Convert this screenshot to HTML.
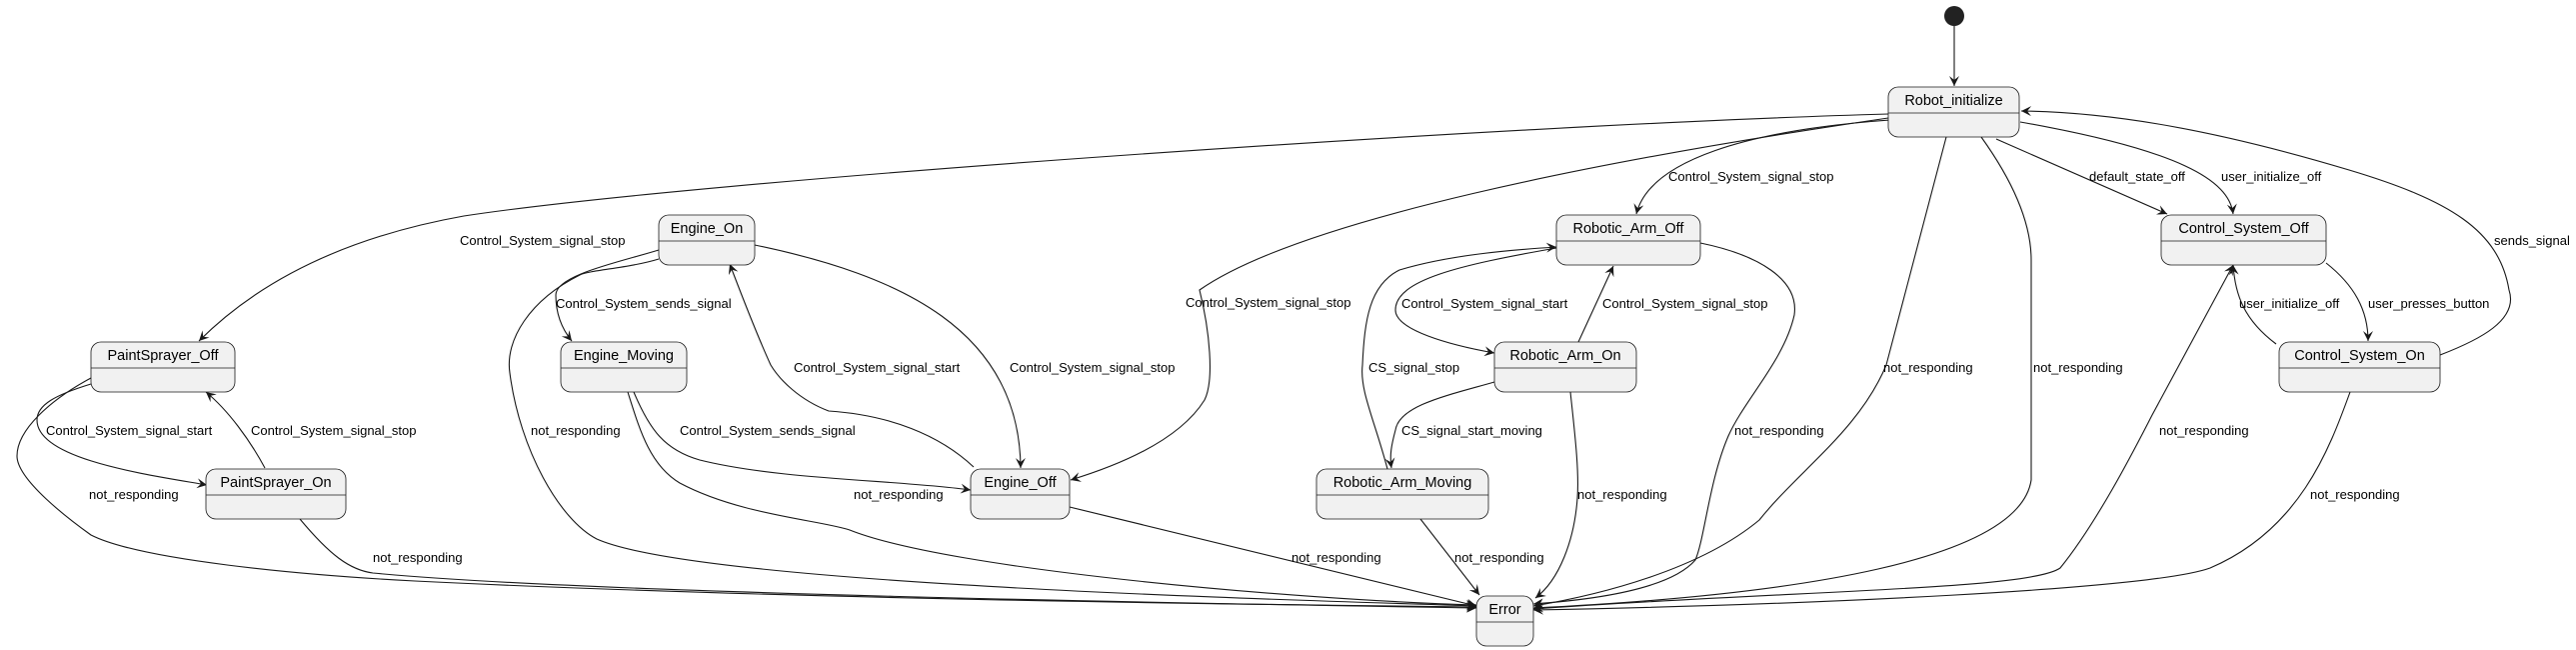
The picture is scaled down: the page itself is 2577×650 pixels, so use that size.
<!DOCTYPE html>
<html><head><meta charset="utf-8"><style>
html,body{margin:0;padding:0;background:#fff;}
svg{display:block;}
text{font-family:"Liberation Sans",sans-serif;fill:#000;}
.l{font-size:13px;}
.n{font-size:14.5px;text-anchor:middle;}
.e{fill:none;stroke:#181818;stroke-width:1.1;marker-end:url(#a);}
.b{fill:#f1f1f1;stroke:#181818;stroke-width:0.8;}
</style></head><body>
<svg width="2577" height="650" viewBox="0 0 2577 650" xmlns="http://www.w3.org/2000/svg">
<defs><marker id="a" markerWidth="12" markerHeight="10" refX="10" refY="5" orient="auto" markerUnits="userSpaceOnUse"><path d="M0,0 L10,5 L0,10 L4,5 z" fill="#181818"/></marker></defs>

<circle cx="1955" cy="16" r="10" fill="#222"/>

<!-- edges -->
<path class="e" d="M1955,26 L1955,86"/>
<path class="e" d="M1889,114 C1500,125 700,180 464,216 C330,240 250,290 199,341"/>
<path class="e" d="M1889,118 C1600,160 1300,220 1200,290 C1210,330 1215,380 1205,400 C1180,440 1120,465 1071,480"/>
<path class="e" d="M1891,120 C1750,130 1650,160 1637,214"/>
<path class="e" d="M1947,137 L1887,365 C1860,430 1800,470 1760,520 C1700,570 1600,595 1534,606"/>
<path class="e" d="M1982,137 C2020,190 2032,230 2032,260 L2032,480 C2020,560 1800,595 1534,608"/>
<path class="e" d="M1997,139 L2168,214"/>
<path class="e" d="M2021,122 C2180,150 2230,180 2234,214"/>
<path class="e" d="M2441,355 C2480,340 2520,320 2510,290 C2500,230 2450,200 2350,170 C2200,125 2100,112 2022,111"/>
<path class="e" d="M2327,263 C2355,285 2369,310 2369,341"/>
<path class="e" d="M2277,344 C2245,320 2236,295 2234,265"/>
<path class="e" d="M1534,609 C1800,590 2030,590 2061,568 C2100,520 2140,440 2153,415 L2234,265"/>
<path class="e" d="M2351,392 C2330,450 2300,530 2211,568 C2150,590 1800,605 1534,610"/>
<path class="e" d="M1701,243 C1760,255 1800,280 1795,315 C1785,360 1745,400 1729,436 C1710,480 1705,540 1696,560 C1670,590 1590,600 1534,604"/>
<path class="e" d="M1557,248 C1460,265 1396,280 1396,310 C1396,330 1450,345 1495,353"/>
<path class="e" d="M1579,342 L1614,266"/>
<path class="e" d="M1388,469 C1375,420 1360,390 1363,365 C1365,320 1370,285 1400,270 C1450,255 1510,250 1557,247"/>
<path class="e" d="M1495,382 C1450,395 1400,405 1396,430 C1392,445 1390,455 1392,468"/>
<path class="e" d="M1571,392 C1575,430 1580,470 1578,498 C1575,540 1560,580 1536,598"/>
<path class="e" d="M1421,519 L1480,595"/>
<path class="e" d="M1070,507 L1477,606"/>
<path class="e" d="M659,250 C620,262 556,275 556,295 C556,315 563,330 572,341"/>
<path class="e" d="M755,245 C900,275 1020,330 1021,468"/>
<path class="e" d="M974,467 C940,435 890,415 829,411 C800,400 780,380 771,365 C755,330 740,290 730,264"/>
<path class="e" d="M634,392 C650,430 665,450 700,460 C780,480 900,480 971,490"/>
<path class="e" d="M659,259 C630,268 590,270 580,275 C530,300 505,340 510,373 C520,450 560,520 597,539 C700,585 1300,600 1477,606"/>
<path class="e" d="M628,392 C640,430 650,465 680,483 C740,515 820,520 850,530 C950,570 1300,600 1477,605"/>
<path class="e" d="M91,384 C55,395 37,405 37,420 C37,460 150,475 207,485"/>
<path class="e" d="M265,468 C250,440 228,410 206,392"/>
<path class="e" d="M91,378 C50,400 17,430 17,456 C17,480 70,520 91,535 C140,560 300,575 415,581 C800,600 1300,605 1477,607"/>
<path class="e" d="M300,519 C330,555 350,570 373,573 C600,595 1300,605 1477,608"/>

<!-- nodes -->
<g>
<rect class="b" x="1889" y="87" width="131" height="50" rx="10"/><line x1="1889" y1="113" x2="2020" y2="113" stroke="#181818" stroke-width="0.8"/><text class="n" x="1954.5" y="105">Robot_initialize</text>
<rect class="b" x="91" y="342" width="144" height="50" rx="10"/><line x1="91" y1="368" x2="235" y2="368" stroke="#181818" stroke-width="0.8"/><text class="n" x="163" y="360">PaintSprayer_Off</text>
<rect class="b" x="206" y="469" width="140" height="50" rx="10"/><line x1="206" y1="495" x2="346" y2="495" stroke="#181818" stroke-width="0.8"/><text class="n" x="276" y="487">PaintSprayer_On</text>
<rect class="b" x="659" y="215" width="96" height="50" rx="10"/><line x1="659" y1="241" x2="755" y2="241" stroke="#181818" stroke-width="0.8"/><text class="n" x="707" y="233">Engine_On</text>
<rect class="b" x="561" y="342" width="126" height="50" rx="10"/><line x1="561" y1="368" x2="687" y2="368" stroke="#181818" stroke-width="0.8"/><text class="n" x="624" y="360">Engine_Moving</text>
<rect class="b" x="971" y="469" width="99" height="50" rx="10"/><line x1="971" y1="495" x2="1070" y2="495" stroke="#181818" stroke-width="0.8"/><text class="n" x="1020.5" y="487">Engine_Off</text>
<rect class="b" x="1557" y="215" width="144" height="50" rx="10"/><line x1="1557" y1="241" x2="1701" y2="241" stroke="#181818" stroke-width="0.8"/><text class="n" x="1629" y="233">Robotic_Arm_Off</text>
<rect class="b" x="1495" y="342" width="142" height="50" rx="10"/><line x1="1495" y1="368" x2="1637" y2="368" stroke="#181818" stroke-width="0.8"/><text class="n" x="1566" y="360">Robotic_Arm_On</text>
<rect class="b" x="1317" y="469" width="172" height="50" rx="10"/><line x1="1317" y1="495" x2="1489" y2="495" stroke="#181818" stroke-width="0.8"/><text class="n" x="1403" y="487">Robotic_Arm_Moving</text>
<rect class="b" x="1477" y="596" width="57" height="50" rx="10"/><line x1="1477" y1="622" x2="1534" y2="622" stroke="#181818" stroke-width="0.8"/><text class="n" x="1505.5" y="614">Error</text>
<rect class="b" x="2162" y="215" width="165" height="50" rx="10"/><line x1="2162" y1="241" x2="2327" y2="241" stroke="#181818" stroke-width="0.8"/><text class="n" x="2244.5" y="233">Control_System_Off</text>
<rect class="b" x="2280" y="342" width="161" height="50" rx="10"/><line x1="2280" y1="368" x2="2441" y2="368" stroke="#181818" stroke-width="0.8"/><text class="n" x="2360.5" y="360">Control_System_On</text>
</g>

<!-- labels -->
<g class="l">
<text class="l" x="460" y="245">Control_System_signal_stop</text>
<text class="l" x="1186" y="307">Control_System_signal_stop</text>
<text class="l" x="1669" y="181">Control_System_signal_stop</text>
<text class="l" x="1884" y="372">not_responding</text>
<text class="l" x="2034" y="372">not_responding</text>
<text class="l" x="2090" y="181">default_state_off</text>
<text class="l" x="2222" y="181">user_initialize_off</text>
<text class="l" x="2495" y="245">sends_signal</text>
<text class="l" x="2369" y="308">user_presses_button</text>
<text class="l" x="2240" y="308">user_initialize_off</text>
<text class="l" x="2160" y="435">not_responding</text>
<text class="l" x="2311" y="499">not_responding</text>
<text class="l" x="1735" y="435">not_responding</text>
<text class="l" x="1402" y="308">Control_System_signal_start</text>
<text class="l" x="1603" y="308">Control_System_signal_stop</text>
<text class="l" x="1369" y="372">CS_signal_stop</text>
<text class="l" x="1402" y="435">CS_signal_start_moving</text>
<text class="l" x="1578" y="499">not_responding</text>
<text class="l" x="1455" y="562">not_responding</text>
<text class="l" x="1292" y="562">not_responding</text>
<text class="l" x="556" y="308">Control_System_sends_signal</text>
<text class="l" x="1010" y="372">Control_System_signal_stop</text>
<text class="l" x="794" y="372">Control_System_signal_start</text>
<text class="l" x="680" y="435">Control_System_sends_signal</text>
<text class="l" x="531" y="435">not_responding</text>
<text class="l" x="854" y="499">not_responding</text>
<text class="l" x="46" y="435">Control_System_signal_start</text>
<text class="l" x="251" y="435">Control_System_signal_stop</text>
<text class="l" x="89" y="499">not_responding</text>
<text class="l" x="373" y="562">not_responding</text>
</g>
</svg>
</body></html>
